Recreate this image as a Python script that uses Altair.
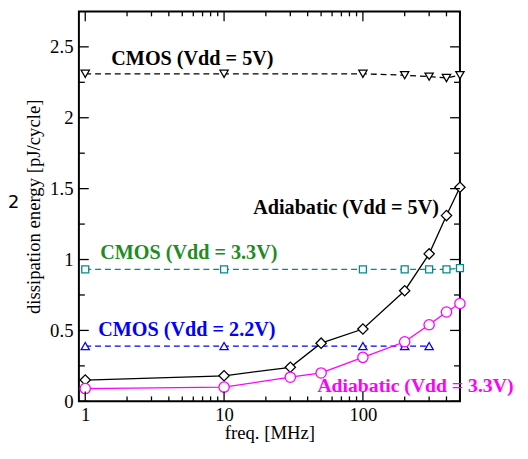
import altair as alt
import pandas as pd

# ---- data ----
x_cmos = [1, 10, 100, 200, 300, 400, 500]
cmos_5v = [2.31, 2.31, 2.31, 2.30, 2.29, 2.28, 2.30]
cmos_33v = [0.93, 0.93, 0.93, 0.93, 0.93, 0.93, 0.94]
x_cmos22 = [1, 10, 100, 200, 300]
cmos_22v = [0.39, 0.39, 0.39, 0.39, 0.39]
x_adi = [1, 10, 30, 50, 100, 200, 300, 400, 500]
adi_5v = [0.15, 0.18, 0.24, 0.41, 0.51, 0.78, 1.04, 1.31, 1.51]
adi_33v = [0.09, 0.10, 0.17, 0.20, 0.31, 0.42, 0.54, 0.63, 0.69]

x_major = [1, 10, 100]
x_minor = [2, 3, 4, 5, 6, 7, 8, 9, 20, 30, 40, 50, 60, 70, 80, 90, 200, 300, 400, 500]
y_major = [0, 0.5, 1, 1.5, 2, 2.5]
y_minor = [0.25, 0.75, 1.25, 1.75, 2.25]

label_text = ["CMOS (Vdd = 5V)", "CMOS (Vdd = 3.3V)", "CMOS (Vdd = 2.2V)",
              "Adiabatic (Vdd = 5V)", "Adiabatic (Vdd = 3.3V)"]
label_x = [1.54, 1.28, 1.24, 16.2, 47.0]
label_y = [2.415, 1.043, 0.50, 1.361, 0.104]
label_size = [20.5, 20.5, 20.5, 20.5, 20]
label_color = ["#000000", "#228b22", "#0000ff", "#000000", "#ff00ff"]

SERIF = "Liberation Serif"
W, H = 387, 396

xscale = alt.Scale(type="log", domain=[0.9, 500], nice=False)
yscale = alt.Scale(domain=[0, 2.75], nice=False, zero=False)

xaxis = alt.Axis(values=x_major, format="~g", ticks=False, domain=False, grid=False,
                 labelFont=SERIF, labelFontSize=19, labelColor="black", labelPadding=4,
                 labelFlush=False,
                 title="freq. [MHz]", titleFont=SERIF, titleFontSize=19,
                 titleFontWeight="normal", titleColor="black",
                 titleX=W / 2, titleY=32, titleBaseline="middle", titleAlign="center")
yaxis = alt.Axis(values=y_major, format="~g", ticks=False, domain=False, grid=False,
                 labelFont=SERIF, labelFontSize=19, labelColor="black", labelPadding=6,
                 title="dissipation energy [pJ/cycle]", titleFont=SERIF, titleFontSize=19,
                 titleFontWeight="normal", titleColor="black",
                 titleX=-46, titleY=H / 2, titleBaseline="middle", titleAlign="center")


def X(field):
    return alt.X(field, scale=xscale, axis=xaxis)


def Y(field):
    return alt.Y(field, scale=yscale, axis=yaxis)


def series(xs, ys, color, shape, size, dashed):
    df = pd.DataFrame({"x": xs, "y": ys})
    line_kw = dict(color=color, strokeWidth=1.3)
    if dashed:
        line_kw["strokeDash"] = [6, 4]
    line = alt.Chart(df).mark_line(**line_kw).encode(x=X("x:Q"), y=Y("y:Q"))
    pts = alt.Chart(df).mark_point(shape=shape, size=size, filled=True, fill="white",
                                   stroke=color, strokeWidth=1.3, opacity=1).encode(
        x=X("x:Q"), y=Y("y:Q"))
    return [line, pts]


layers = []
layers += series(x_cmos, cmos_5v, "#000000", "triangle-down", 70, True)
layers += series(x_cmos, cmos_33v, "#008b8b", "square", 50, True)
layers += series(x_cmos22, cmos_22v, "#0000ff", "triangle-up", 70, True)
layers += series(x_adi, adi_5v, "#000000", "diamond", 110, False)
layers += series(x_adi, adi_33v, "#ff00ff", "circle", 110, False)


# inward tick marks (major and minor) on all four sides
def xticks(vals, length):
    df = pd.DataFrame({"x": vals})
    b = alt.Chart(df).mark_rule(color="black", strokeWidth=1.3).encode(
        x=X("x:Q"), y=alt.value(H), y2=alt.value(H - length))
    t = alt.Chart(df).mark_rule(color="black", strokeWidth=1.3).encode(
        x=X("x:Q"), y=alt.value(0), y2=alt.value(length))
    return [b, t]


def yticks(vals, length):
    df = pd.DataFrame({"y": vals})
    l = alt.Chart(df).mark_rule(color="black", strokeWidth=1.3).encode(
        y=Y("y:Q"), x=alt.value(0), x2=alt.value(length))
    r = alt.Chart(df).mark_rule(color="black", strokeWidth=1.3).encode(
        y=Y("y:Q"), x=alt.value(W), x2=alt.value(W - length))
    return [l, r]


layers += xticks(x_major, 10) + xticks(x_minor, 5)
layers += yticks(y_major, 10) + yticks(y_minor, 6)

lab_df = pd.DataFrame({"x": label_x, "y": label_y, "t": label_text,
                       "c": label_color, "s": label_size})
labels = alt.Chart(lab_df).mark_text(align="left", baseline="middle", font=SERIF,
                                     fontWeight="bold").encode(
    x=X("x:Q"), y=Y("y:Q"),
    text="t:N",
    size=alt.Size("s:Q", scale=None, legend=None),
    color=alt.Color("c:N", scale=None))
layers.append(labels)

stray = alt.Chart(pd.DataFrame({"t": ["2"]})).mark_text(
    align="left", baseline="middle", font="DejaVu Sans", fontSize=18, color="black").encode(
    x=alt.value(-72), y=alt.value(195), text="t:N")
layers.append(stray)

chart = alt.layer(*layers).properties(
    width=W, height=H,
    autosize=alt.AutoSizeParams(type="none"),
    padding={"left": 72, "top": 0, "right": 61, "bottom": 47},
).configure_view(stroke="black", strokeWidth=2)

chart.save("out.html", embed_options={"renderer": "svg", "actions": False})
